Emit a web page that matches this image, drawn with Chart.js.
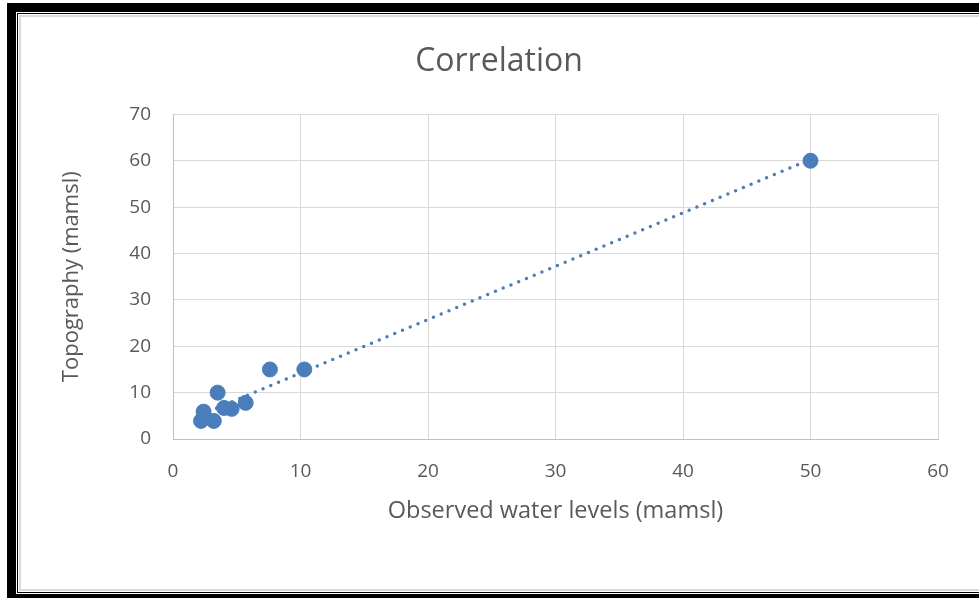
<!DOCTYPE html>
<html>
<head>
<meta charset="utf-8">
<title>Correlation</title>
<script src="https://cdn.jsdelivr.net/npm/chart.js@4/dist/chart.umd.min.js"></script>
<style>
  html, body { margin: 0; padding: 0; background: #fff; }
  body { width: 979px; height: 598px; position: relative; overflow: hidden; }
  #chart { position: absolute; left: 0; top: 0; }
  /* thick black outer frame, thin black line, then grey chart border */
  .frame {
    position: absolute; left: 7px; top: 3px; width: 1000px; height: 582px;
    border-left: 9px solid #000; border-top: 9px solid #000; border-bottom: 4px solid #000;
    pointer-events: none;
  }
  .frame .inner {
    position: absolute; left: 1px; top: 1px; right: 0; bottom: 1px;
    border-left: 1px solid #000; border-top: 1px solid #000; border-bottom: 1px solid #000;
  }
  .frame .inner .edge {
    position: absolute; left: 1px; top: 1px; right: 0; bottom: 1px;
    border-left: 2px solid #d9d9d9; border-top: 2px solid #d9d9d9; border-bottom: 2px solid #d9d9d9;
  }
</style>
</head>
<body>
<canvas id="chart" width="979" height="598"></canvas>
<div class="frame"><div class="inner"><div class="edge"></div></div></div>
<script>
// Observed water levels vs topography (mamsl)
const obsLevels  = [2.2, 2.4, 3.2, 3.5, 4.0, 4.6, 5.7, 7.6, 10.3, 50];
const topography = [3.9, 5.9, 3.9, 10, 6.7, 6.5, 7.8, 15, 15, 60];
const xTicks = [0, 10, 20, 30, 40, 50, 60];
const yTicks = [0, 10, 20, 30, 40, 50, 60, 70];

const textColor = '#595959';
const pointColor = '#4a7ebb';
const fontFamily = '"Open Sans", "DejaVu Sans", sans-serif';

// Linear trendline (least squares), spanning the data range
function linearFit(xs, ys) {
    const n = xs.length;
    const mx = xs.reduce((a, b) => a + b, 0) / n;
    const my = ys.reduce((a, b) => a + b, 0) / n;
    let sxy = 0, sxx = 0;
    for (let i = 0; i < n; i++) {
        sxy += (xs[i] - mx) * (ys[i] - my);
        sxx += (xs[i] - mx) * (xs[i] - mx);
    }
    const slope = sxy / sxx;
    return { slope: slope, intercept: my - slope * mx };
}

const fit = linearFit(obsLevels, topography);
const xMin = Math.min.apply(null, obsLevels);
const xMax = Math.max.apply(null, obsLevels);
const trendPoints = [xMin, xMax].map(x => ({ x: x, y: fit.slope * x + fit.intercept }));
const scatterPoints = obsLevels.map((x, i) => ({ x: x, y: topography[i] }));

new Chart(document.getElementById('chart'), {
    type: 'scatter',
    data: {
        datasets: [{
            label: 'Topography',
            data: scatterPoints,
            backgroundColor: pointColor,
            borderColor: pointColor,
            pointRadius: 7.5,
            pointHoverRadius: 7.5,
            order: 1
        }, {
            type: 'line',
            label: 'Linear trend',
            data: trendPoints,
            borderColor: pointColor,
            borderWidth: 3.5,
            borderDash: [0, 8.4],
            borderCapStyle: 'round',
            pointRadius: 0,
            fill: false,
            order: 2
        }]
    },
    options: {
        responsive: false,
        animation: false,
        layout: { padding: { left: 20, top: 16, right: 1, bottom: 58 } },
        plugins: {
            legend: { display: false },
            tooltip: { enabled: false },
            title: {
                display: true,
                text: 'Correlation',
                color: textColor,
                font: { family: fontFamily, size: 32, weight: 'normal', lineHeight: 1.2 },
                padding: { top: 27, bottom: 33 }
            }
        },
        scales: {
            x: {
                type: 'linear',
                min: 0, max: 60,
                afterBuildTicks: s => { s.ticks = xTicks.map(v => ({ value: v })); },
                afterFit: s => { s.height = 101; },
                grid: { color: '#d9d9d9', lineWidth: 1, drawTicks: false },
                border: { color: '#bfbfbf', width: 1 },
                ticks: { color: textColor, padding: 21, font: { family: fontFamily, size: 19 } },
                title: {
                    display: true,
                    text: 'Observed water levels (mamsl)',
                    color: textColor,
                    font: { family: fontFamily, size: 23.5, lineHeight: 1.2 },
                    padding: { top: 0, bottom: 15 }
                }
            },
            y: {
                type: 'linear',
                min: 0, max: 70,
                afterBuildTicks: s => { s.ticks = yTicks.map(v => ({ value: v })); },
                afterFit: s => { s.width = 153; },
                grid: { color: '#d9d9d9', lineWidth: 1, drawTicks: false },
                border: { color: '#bfbfbf', width: 1 },
                ticks: { color: textColor, padding: 22, font: { family: fontFamily, size: 19 } },
                title: {
                    display: true,
                    text: 'Topography (mamsl)',
                    color: textColor,
                    font: { family: fontFamily, size: 22, lineHeight: 1.2 },
                    padding: { top: 39, bottom: 0 }
                }
            },
            // empty right-hand margin so the chart box runs past the plot area
            spacer: {
                type: 'linear',
                position: 'right',
                afterFit: s => { s.width = 40; },
                grid: { display: false },
                border: { display: false },
                ticks: { display: false }
            }
        }
    }
});
</script>
</body>
</html>
